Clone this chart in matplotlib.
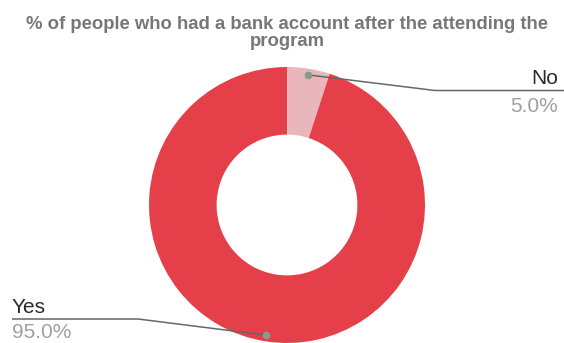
import numpy as np
import matplotlib
matplotlib.use("Agg")
import matplotlib.pyplot as plt

# Survey result: bank account ownership after the program
labels = ["No", "Yes"]
shares = [5.0, 95.0]
colors = ["#E9B7BB", "#E5404A"]
title = "% of people who had a bank account after the attending the\nprogram"

W, H = 564, 343
DPI = 100
plt.rcParams["font.family"] = ["Liberation Sans", "DejaVu Sans"]

fig = plt.figure(figsize=(W / DPI, H / DPI), dpi=DPI)

# donut centre and radius in pixels (from the top-left corner)
cx, cy, R = 287, 205, 138

# axes spans the whole figure, one data unit == donut radius
ax = fig.add_axes([0, 0, 1, 1])
wedges, _ = ax.pie(shares, colors=colors, startangle=90, counterclock=False,
                   radius=1.0, wedgeprops=dict(width=0.49, linewidth=0),
                   center=(0, 0))
ax.set_xlim(-cx / R, (W - cx) / R)
ax.set_ylim(-(H - cy) / R, cy / R)
ax.set_aspect("auto")
ax.axis("off")


def px(x, y):
    """pixel position (top-left origin) -> data coordinates"""
    return (x - cx) / R, (cy - y) / R


line_kw = dict(color="#666666", lw=1.1, solid_capstyle="butt")
dot_kw = dict(color="#8a9a8a", ms=4.5, marker="o", ls="none")

# leader anchor points placed at the middle angle of each wedge
anchors = []
for w in wedges:
    mid = np.deg2rad((w.theta1 + w.theta2) / 2)
    anchors.append((0.955 * np.cos(mid), 0.955 * np.sin(mid)))

# "No" on the right
ax_, ay_ = anchors[0]
ex, ey = px(435, 90.5)
rx, _ = px(W, 90.5)
ax.plot([ax_, ex, rx], [ay_, ey, ey], **line_kw)
ax.plot([ax_], [ay_], **dot_kw)
tx, ty = px(558, 84)
ax.text(tx, ty, labels[0], ha="right", va="baseline", fontsize=15,
        color="#2a2a2a")
tx, ty = px(558, 112)
ax.text(tx, ty, f"{shares[0]:.1f}%", ha="right", va="baseline", fontsize=15,
        color="#a0a0a0")

# "Yes" on the left
bx_, by_ = anchors[1]
ex, ey = px(138, 319)
lx, _ = px(12, 319)
ax.plot([bx_, ex, lx], [by_, ey, ey], **line_kw)
ax.plot([bx_], [by_], **dot_kw)
tx, ty = px(12, 313)
ax.text(tx, ty, labels[1], ha="left", va="baseline", fontsize=15,
        color="#2a2a2a")
tx, ty = px(12, 338)
ax.text(tx, ty, f"{shares[1]:.1f}%", ha="left", va="baseline", fontsize=15,
        color="#a0a0a0")

fig.text(287 / W, 1 - 16 / H, title, ha="center", va="top", fontsize=13.3,
         fontweight="bold", color="#777777", linespacing=0.98)

fig.savefig("out.png", dpi=DPI)
